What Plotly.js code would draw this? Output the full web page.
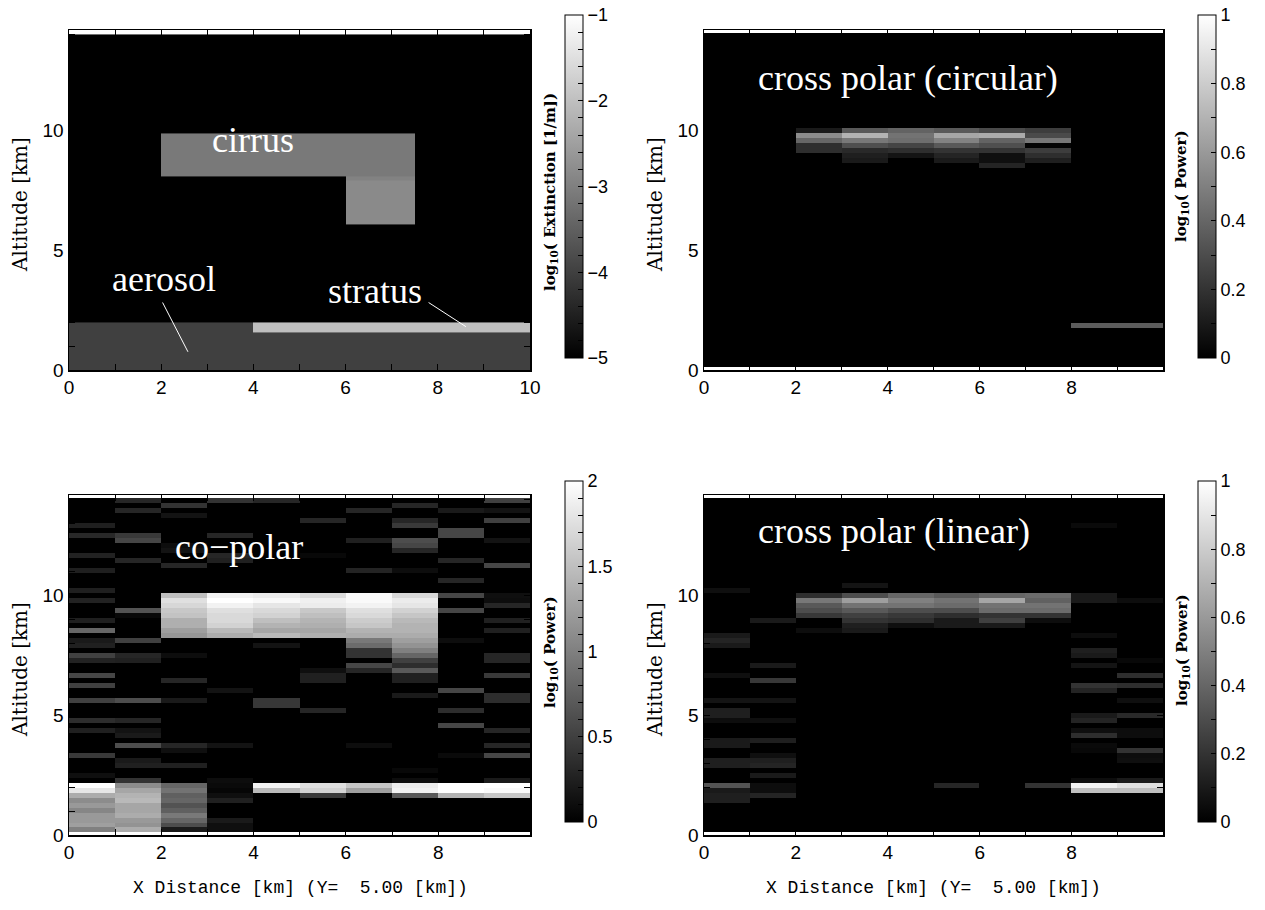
<!DOCTYPE html>
<html>
<head>
<meta charset="utf-8">
<script src="https://cdn.plot.ly/plotly-3.0.1.min.js"></script>
<style>html,body{margin:0;padding:0;background:#fff;}#chart{width:1265px;height:910px;}</style>
</head>
<body>
<div id="chart"></div>
<script>
// ---------------- DATA ----------------
// Panel 1: log10(Extinction [1/m]) model scene (cells between edges)
const extinctionXEdges = [0, 2, 4, 6, 7.5, 10];
const extinctionZEdges = [0, 1.58, 2.0, 6.07, 7.9, 8.09, 9.89, 14.02, 14.27];
const extinctionRows = [
  [-4, -4, -4, -4, -4],          // aerosol
  [-4, -4, -2, -2, -2],          // aerosol + stratus
  [-5, -5, -5, -5, -5],
  [-5, -5, -5, -2.84, -5],       // cirrus fall streak
  [-5, -5, -5, -2.96, -5],
  [-5, -3.1, -3.1, -3.1, -5],    // cirrus
  [-5, -5, -5, -5, -5],
  [-1, -1, -1, -1, -1]
];

// Radar panels: 10 columns of 1 km, 69 range gates (row index k -> altitude k*gate)
const gateKm = 0.2083;
const nGates = 69;
const nColumns = 10;
const edgeGates = [0, 68];

// [column, gate, log10(Power)]
const circularCells = [
  [2,48,0.1],[2,47,0.55],[2,46,0.4],[2,45,0.18],[2,44,0.18],
  [3,48,0.35],[3,47,0.7],[3,46,0.47],[3,45,0.31],[3,44,0.16],[3,43,0.12],[3,42,0.1],
  [4,48,0.39],[4,47,0.45],[4,46,0.43],[4,45,0.27],[4,44,0.18],[4,43,0.08],
  [5,48,0.35],[5,47,0.65],[5,46,0.51],[5,45,0.35],[5,44,0.2],[5,43,0.14],[5,42,0.1],
  [6,48,0.29],[6,47,0.67],[6,46,0.39],[6,45,0.31],[6,44,0.2],[6,43,0.06],[6,42,0.06],[6,41,0.14],
  [7,48,0.24],[7,47,0.29],[7,46,0.47],[7,45,0.02],[7,44,0.24],[7,43,0.18],[7,42,0.12],
  [8,9,0.36],[9,9,0.36]
];
const circularEdgeValue = 1;

const copolarCells = [
  [0,62,0.24],[0,60,0.31],[0,56,0.27],[0,53,0.24],[0,49,0.24],[0,47,0.27],[0,43,0.24],[0,41,0.8],[0,39,0.2],[0,38,0.25],[0,36,0.5],[0,35,0.27],[0,32,0.55],[0,30,0.5],[0,27,0.5],[0,23,0.35],[0,21,0.25],[0,16,0.45],[0,12,0.12],[0,10,2.0],[0,9,1.8],[0,8,1.35],[0,7,1.1],[0,6,1.2],[0,5,1.05],[0,4,1.2],[0,3,1.2],[0,2,1.25],[0,1,1.0],
  [1,67,0.3],[1,65,0.3],[1,60,0.45],[1,59,0.55],[1,55,0.3],[1,45,0.65],[1,44,0.06],[1,39,0.5],[1,36,0.3],[1,35,0.25],[1,27,0.6],[1,23,0.3],[1,21,0.15],[1,20,0.2],[1,18,0.6],[1,15,0.2],[1,14,0.25],[1,11,0.4],[1,10,1.1],[1,9,1.3],[1,8,1.4],[1,7,1.45],[1,6,1.3],[1,5,1.3],[1,4,1.35],[1,3,1.2],[1,2,1.15],[1,1,1.35],
  [2,66,0.4],[2,64,0.15],[2,58,0.1],[2,57,0.15],[2,54,0.3],[2,48,1.5],[2,47,1.76],[2,46,1.69],[2,45,1.57],[2,44,1.53],[2,43,1.37],[2,42,1.37],[2,41,1.25],[2,40,1.18],[2,36,0.1],[2,31,0.3],[2,27,0.2],[2,18,0.3],[2,17,0.12],[2,14,0.25],[2,10,0.8],[2,9,0.9],[2,8,0.75],[2,7,0.8],[2,6,0.65],[2,5,0.75],[2,4,0.95],[2,3,0.8],[2,2,0.6],[2,1,0.2],
  [3,67,0.4],[3,60,0.3],[3,56,0.3],[3,55,0.25],[3,48,1.9],[3,47,2.0],[3,46,1.9],[3,45,1.75],[3,44,1.7],[3,43,1.7],[3,42,1.65],[3,41,1.45],[3,40,1.35],[3,29,0.15],[3,18,0.15],[3,11,0.1],[3,10,0.08],[3,9,0.05],[3,8,0.12],[3,7,0.25],[3,3,0.2],[3,2,0.12],[3,1,0.12],
  [4,67,0.3],[4,48,1.85],[4,47,1.95],[4,46,1.8],[4,45,1.7],[4,44,1.65],[4,43,1.5],[4,42,1.4],[4,41,1.3],[4,40,1.45],[4,38,0.15],[4,27,0.43],[4,26,0.43],[4,10,1.9],[4,9,1.45],
  [5,63,0.3],[5,56,0.06],[5,48,1.72],[5,47,1.88],[5,46,1.85],[5,45,1.57],[5,44,1.5],[5,43,1.41],[5,42,1.37],[5,41,1.3],[5,40,1.37],[5,33,0.12],[5,32,0.25],[5,31,0.25],[5,25,0.3],[5,10,1.75],[5,9,1.65],[5,8,0.45],
  [6,65,0.3],[6,59,0.25],[6,53,0.28],[6,48,1.95],[6,47,1.95],[6,46,1.9],[6,45,1.75],[6,44,1.7],[6,43,1.6],[6,42,1.55],[6,41,1.4],[6,40,1.35],[6,39,0.95],[6,38,0.85],[6,37,0.4],[6,36,0.4],[6,34,0.55],[6,33,0.3],[6,18,0.1],[6,10,1.55],[6,9,1.25],
  [7,66,0.3],[7,63,0.3],[7,62,0.45],[7,59,0.6],[7,58,0.55],[7,57,0.3],[7,53,0.1],[7,48,1.7],[7,47,1.85],[7,46,1.8],[7,45,1.65],[7,44,1.55],[7,43,1.45],[7,42,1.4],[7,41,1.4],[7,40,1.35],[7,39,1.25],[7,38,1.15],[7,37,1.0],[7,36,0.8],[7,35,0.5],[7,34,0.35],[7,33,0.7],[7,32,0.25],[7,31,0.25],[7,28,0.2],[7,13,0.06],[7,11,0.1],[7,10,1.85],[7,9,1.9],[7,8,0.7],
  [8,65,0.2],[8,61,0.55],[8,60,0.55],[8,55,0.3],[8,51,0.3],[8,48,0.55],[8,45,0.55],[8,39,0.1],[8,29,0.55],[8,25,0.35],[8,22,0.55],[8,16,0.08],[8,10,2.0],[8,9,2.0],[8,8,1.4],
  [9,67,0.5],[9,65,0.15],[9,63,0.5],[9,59,0.15],[9,54,0.55],[9,48,0.12],[9,47,0.1],[9,46,0.3],[9,43,0.25],[9,41,0.25],[9,36,0.3],[9,35,0.3],[9,32,0.45],[9,28,0.35],[9,27,0.35],[9,21,0.3],[9,18,0.3],[9,16,0.55],[9,11,0.2],[9,10,2.0],[9,9,1.95],[9,8,1.55]
];
const copolarEdgeValue = 2;

const linearCells = [
  [0,49,0.06],[0,40,0.1],[0,39,0.14],[0,38,0.1],[0,32,0.06],[0,27,0.08],[0,25,0.12],[0,24,0.12],[0,23,0.05],[0,19,0.1],[0,18,0.1],[0,15,0.12],[0,14,0.12],[0,10,0.33],[0,9,0.1],[0,8,0.12],[0,7,0.12],
  [1,43,0.1],[1,34,0.1],[1,31,0.22],[1,27,0.08],[1,23,0.06],[1,19,0.12],[1,16,0.06],[1,15,0.12],[1,14,0.14],[1,12,0.1],[1,10,0.05],[1,9,0.05],[1,8,0.14],
  [2,48,0.18],[2,47,0.47],[2,46,0.35],[2,45,0.3],[2,44,0.22],[2,41,0.05],
  [3,50,0.08],[3,48,0.3],[3,47,0.62],[3,46,0.45],[3,45,0.35],[3,44,0.25],[3,43,0.2],[3,42,0.12],[3,41,0.1],
  [4,48,0.4],[4,47,0.5],[4,46,0.45],[4,45,0.3],[4,44,0.22],[4,43,0.18],[4,42,0.06],
  [5,48,0.35],[5,47,0.45],[5,46,0.42],[5,45,0.3],[5,44,0.18],[5,43,0.1],[5,42,0.1],[5,10,0.15],
  [6,48,0.4],[6,47,0.65],[6,46,0.45],[6,45,0.42],[6,44,0.2],[6,43,0.25],[6,42,0.1],
  [7,48,0.42],[7,47,0.38],[7,46,0.45],[7,45,0.42],[7,44,0.2],[7,43,0.05],[7,10,0.2],
  [8,62,0.04],[8,48,0.1],[8,47,0.1],[8,40,0.05],[8,37,0.12],[8,36,0.1],[8,34,0.08],[8,30,0.2],[8,29,0.14],[8,24,0.1],[8,23,0.14],[8,21,0.06],[8,20,0.18],[8,18,0.04],[8,17,0.03],[8,11,0.05],[8,10,0.95],[8,9,0.75],
  [9,47,0.05],[9,35,0.03],[9,32,0.18],[9,30,0.18],[9,27,0.06],[9,24,0.16],[9,21,0.05],[9,20,0.05],[9,17,0.2],[9,16,0.05],[9,15,0.06],[9,11,0.1],[9,10,0.88],[9,9,0.75]
];
const linearEdgeValue = 1;

// Text
const panelLabels = ['cross polar (circular)', 'co\u2212polar', 'cross polar (linear)'];
const sceneLabels = ['cirrus', 'aerosol', 'stratus'];
const yTitle = 'Altitude [km]';
const xTitle = 'X Distance [km] (Y=\u00a0 5.00 [km])';

// ---------------- BUILD ----------------
function buildGrid(cells, edgeValue) {
  const z = [];
  for (let r = 0; r < nGates; r++) z.push(new Array(nColumns).fill(0));
  edgeGates.forEach(g => { z[g] = new Array(nColumns).fill(edgeValue); });
  cells.forEach(([c, g, v]) => { z[g][c] = v; });
  return z;
}

const W = 1265, H = 910;
const px = v => v / W;
const py = v => 1 - v / H;

const gray = [[0, 'rgb(0,0,0)'], [1, 'rgb(255,255,255)']];

function cbTicks(lo, hi, minor, major, fmt) {
  const vals = [], txt = [];
  const n = Math.round((hi - lo) / minor);
  for (let i = 0; i <= n; i++) {
    const v = +(lo + i * minor).toFixed(6);
    vals.push(v);
    const m = Math.abs(v / major - Math.round(v / major)) < 1e-6;
    txt.push(m ? fmt(v) : '');
  }
  return {vals, txt};
}
const fmtNum = v => (v < 0 ? '\u2212' + Math.abs(v) : String(v));

function colorbar(xLeft, yTop, yBot, ticks) {
  return {
    x: px(xLeft), xanchor: 'left', xpad: 0, ypad: 0,
    y: py((yTop + yBot) / 2), yanchor: 'middle',
    len: yBot - yTop, lenmode: 'pixels',
    thickness: 18, thicknessmode: 'pixels',
    outlinewidth: 1, outlinecolor: 'black',
    tickmode: 'array', tickvals: ticks.vals, ticktext: ticks.txt,
    ticks: 'inside', ticklen: 5, tickcolor: 'black', tickwidth: 1,
    tickfont: {family: 'Liberation Sans', size: 18, color: 'black'}
  };
}

const topY = [30, 370], botY = [495, 835];
const leftX = [69, 530], rightX = [704, 1163];
const cbTopY = [15, 358], cbBotY = [481, 822];

const traces = [
  {
    type: 'heatmap', x: extinctionXEdges, y: extinctionZEdges, z: extinctionRows,
    zmin: -5, zmax: -1, colorscale: gray, zsmooth: false, hoverinfo: 'skip',
    xaxis: 'x', yaxis: 'y',
    colorbar: colorbar(565, cbTopY[0], cbTopY[1], cbTicks(-5, -1, 0.2, 1, fmtNum))
  },
  {
    type: 'heatmap', z: buildGrid(circularCells, circularEdgeValue),
    x0: 0.5, dx: 1, y0: 0, dy: gateKm,
    zmin: 0, zmax: 1, colorscale: gray, zsmooth: false, hoverinfo: 'skip',
    xaxis: 'x2', yaxis: 'y2',
    colorbar: colorbar(1198, cbTopY[0], cbTopY[1], cbTicks(0, 1, 0.1, 0.2, fmtNum))
  },
  {
    type: 'heatmap', z: buildGrid(copolarCells, copolarEdgeValue),
    x0: 0.5, dx: 1, y0: 0, dy: gateKm,
    zmin: 0, zmax: 2, colorscale: gray, zsmooth: false, hoverinfo: 'skip',
    xaxis: 'x3', yaxis: 'y3',
    colorbar: colorbar(565, cbBotY[0], cbBotY[1], cbTicks(0, 2, 0.1, 0.5, fmtNum))
  },
  {
    type: 'heatmap', z: buildGrid(linearCells, linearEdgeValue),
    x0: 0.5, dx: 1, y0: 0, dy: gateKm,
    zmin: 0, zmax: 1, colorscale: gray, zsmooth: false, hoverinfo: 'skip',
    xaxis: 'x4', yaxis: 'y4',
    colorbar: colorbar(1198, cbBotY[0], cbBotY[1], cbTicks(0, 1, 0.1, 0.2, fmtNum))
  }
];

const yTop = (nGates - 1) * gateKm + 0.04;

function xAx(dom, xmax, anchor) {
  return {
    domain: [px(dom[0]), px(dom[1])], range: [0, xmax], anchor: anchor,
    showline: true, linecolor: 'black', linewidth: 1.5, mirror: 'ticks',
    ticks: 'inside', ticklen: 6, tickwidth: 1, tickcolor: 'black',
    dtick: 2, tick0: 0, showgrid: false, zeroline: false,
    tickfont: {family: 'Liberation Sans', size: 19, color: 'black'},
    minor: {ticks: 'inside', ticklen: 6, dtick: 1, tick0: 0, tickcolor: 'black', showgrid: false},
    fixedrange: true
  };
}
function yAx(dom, anchor) {
  return {
    domain: [py(dom[1]), py(dom[0])], range: [0, yTop], anchor: anchor,
    showline: true, linecolor: 'black', linewidth: 1.5, mirror: 'ticks',
    ticks: 'inside', ticklen: 6, tickwidth: 1, tickcolor: 'black',
    dtick: 5, tick0: 0, showgrid: false, zeroline: false,
    tickfont: {family: 'Liberation Sans', size: 19, color: 'black'},
    minor: {ticks: 'inside', ticklen: 6, dtick: 1, tick0: 0, tickcolor: 'black', showgrid: false},
    fixedrange: true
  };
}

const whiteLabel = {family: 'Liberation Serif', size: 36, color: 'white'};
const annotations = [
  {xref: 'x', yref: 'y', x: 4.0, y: 9.6, text: sceneLabels[0], showarrow: false, font: whiteLabel},
  {xref: 'x', yref: 'y', x: 2.05, y: 3.8, text: sceneLabels[1], showarrow: false, font: whiteLabel},
  {xref: 'x', yref: 'y', x: 6.63, y: 3.3, text: sceneLabels[2], showarrow: false, font: whiteLabel},
  {xref: 'x2', yref: 'y2', x: 4.43, y: 12.2, text: panelLabels[0], showarrow: false, font: whiteLabel},
  {xref: 'x3', yref: 'y3', x: 3.69, y: 12.05, text: panelLabels[1], showarrow: false, font: whiteLabel},
  {xref: 'x4', yref: 'y4', x: 4.14, y: 12.7, text: panelLabels[2], showarrow: false, font: whiteLabel}
];
const yTitleFont = {family: 'DejaVu Serif', size: 20, color: 'black'};
[[20, 205], [655, 205], [20, 670], [655, 670]].forEach(([x, y]) => {
  annotations.push({xref: 'paper', yref: 'paper', x: px(x), y: py(y), text: yTitle,
    textangle: -90, showarrow: false, font: yTitleFont, xanchor: 'center', yanchor: 'middle'});
});
const xTitleFont = {family: 'Liberation Mono', size: 18, color: 'black'};
[300, 933].forEach(x => {
  annotations.push({xref: 'paper', yref: 'paper', x: px(x), y: py(888), text: xTitle,
    showarrow: false, font: xTitleFont, xanchor: 'center', yanchor: 'middle'});
});
const cbTitleFont = {family: 'DejaVu Serif', size: 15, color: 'black', weight: 'bold'};
[[550, 192, 'log<sub>10</sub>( Extinction [1/m])'], [1182, 186, 'log<sub>10</sub>( Power)'],
 [550, 652, 'log<sub>10</sub>( Power)'], [1182, 650, 'log<sub>10</sub>( Power)']].forEach(([x, y, t]) => {
  annotations.push({xref: 'paper', yref: 'paper', x: px(x), y: py(y), text: t,
    textangle: -90, showarrow: false, font: cbTitleFont, xanchor: 'center', yanchor: 'middle'});
});

const shapes = [
  {type: 'line', xref: 'x', yref: 'y', x0: 2.03, y0: 2.82, x1: 2.58, y1: 0.76, line: {color: 'white', width: 1}},
  {type: 'line', xref: 'x', yref: 'y', x0: 7.80, y0: 2.82, x1: 8.61, y1: 1.81, line: {color: 'white', width: 1}}
];

const layout = {
  width: W, height: H, margin: {l: 0, r: 0, t: 0, b: 0},
  paper_bgcolor: 'white', plot_bgcolor: 'black', showlegend: false,
  xaxis: xAx(leftX, 10, 'y'), yaxis: yAx(topY, 'x'),
  xaxis2: xAx(rightX, 9.99, 'y2'), yaxis2: yAx(topY, 'x2'),
  xaxis3: xAx(leftX, 9.99, 'y3'), yaxis3: yAx(botY, 'x3'),
  xaxis4: xAx(rightX, 9.99, 'y4'), yaxis4: yAx(botY, 'x4'),
  annotations: annotations, shapes: shapes
};

Plotly.newPlot('chart', traces, layout, {staticPlot: true, displayModeBar: false});
</script>
</body>
</html>
